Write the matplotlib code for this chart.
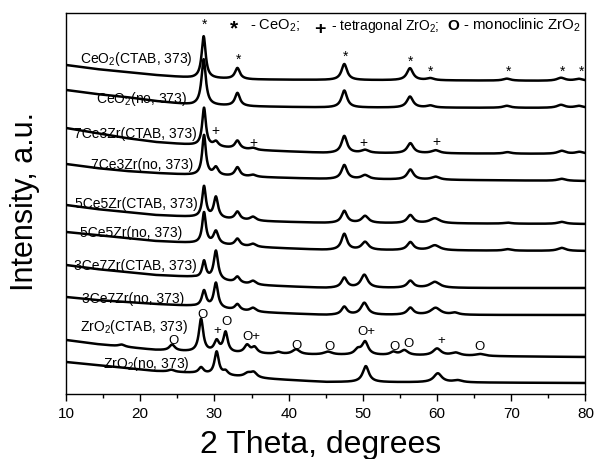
import numpy as np
import matplotlib
matplotlib.use('Agg')
import matplotlib.pyplot as plt

plt.rcParams['font.family'] = ['Liberation Sans', 'DejaVu Sans']
plt.rcParams['mathtext.fontset'] = 'custom'
plt.rcParams['mathtext.rm'] = 'Liberation Sans'
plt.rcParams['mathtext.it'] = 'Liberation Sans:italic'
plt.rcParams['mathtext.bf'] = 'Liberation Sans:bold'

# sample names, top to bottom
samples = ['CeO$_2$(CTAB, 373)', 'CeO$_2$(no, 373)',
           '7Ce3Zr(CTAB, 373)', '7Ce3Zr(no, 373)',
           '5Ce5Zr(CTAB, 373)', '5Ce5Zr(no, 373)',
           '3Ce7Zr(CTAB, 373)', '3Ce7Zr(no, 373)',
           'ZrO$_2$(CTAB, 373)', 'ZrO$_2$(no, 373)']

# background level (a.u., stacked) at these 2theta points
bg_x = [10, 14, 18, 22, 27, 35, 45, 80]
bg = [
    [329, 325, 322, 319, 316, 314.5, 314, 313],
    [304, 300, 297, 293, 289, 287.5, 286.5, 286],
    [266, 261, 256, 252, 249, 244, 241, 240],
    [230, 226, 223, 221, 219, 217, 215, 213],
    [189, 185, 182, 179, 177, 173, 171, 170],
    [162, 159, 156, 153, 151, 147, 144, 143],
    [129, 125, 122, 119, 117, 109, 106, 106],
    [97, 94, 92, 90, 88, 82, 79, 79],
    [54, 50, 47, 44, 42, 40, 39, 37],
    [32, 29, 26, 23, 21, 16, 12, 11],
]

# peaks: (2theta, height, fwhm)
peaks = [
    [(28.55, 42, 0.65), (33.1, 11, 0.8), (47.5, 16, 0.9), (56.35, 12, 1.0),
     (59.1, 2, 1.2), (69.4, 2, 1.2), (76.7, 3, 1.3), (79.1, 2, 1.3)],
    [(28.55, 46, 0.7), (33.1, 13, 0.8), (47.5, 17, 0.9), (56.35, 11, 1.0),
     (59.1, 2, 1.2), (69.4, 2, 1.2), (76.7, 3, 1.3), (79.1, 2, 1.3)],
    [(28.6, 38, 0.6), (30.2, 5, 0.8), (33.1, 8, 0.8), (35.2, 2, 1.0),
     (47.5, 17, 0.9), (50.3, 3, 1.2), (56.4, 10, 1.0), (59.8, 3, 1.3),
     (69.5, 1.5, 1.2), (76.8, 3, 1.3), (79.2, 2, 1.3)],
    [(28.6, 40, 0.6), (30.2, 8, 0.8), (33.1, 9, 0.8), (35.2, 2, 1.0),
     (47.5, 14, 0.9), (50.3, 4, 1.2), (56.4, 10, 1.0), (59.8, 3, 1.3),
     (76.8, 2, 1.3)],
    [(28.6, 31, 0.6), (30.2, 21, 0.7), (33.1, 8, 0.8), (35.2, 4, 1.0),
     (47.5, 12, 0.9), (50.3, 7, 1.1), (56.4, 8, 1.0), (59.7, 5, 1.6),
     (69.5, 1, 1.2), (76.8, 2, 1.3)],
    [(28.6, 31, 0.6), (30.2, 13, 0.8), (33.1, 7, 0.8), (35.2, 3, 1.0),
     (47.5, 16, 0.9), (50.3, 8, 1.1), (56.4, 8, 1.0), (59.7, 5, 1.6),
     (69.5, 1.5, 1.2), (76.8, 3, 1.3)],
    [(28.6, 17, 0.6), (30.2, 29, 0.7), (33.1, 6, 0.8), (35.2, 4, 1.0),
     (47.5, 10, 0.9), (50.2, 13, 1.1), (56.4, 7, 1.0), (59.7, 6, 1.6)],
    [(28.6, 16, 0.7), (30.2, 25, 0.7), (33.1, 6, 0.8), (35.2, 4, 1.0),
     (47.5, 8, 0.9), (50.2, 12, 1.1), (56.4, 7, 1.0), (59.8, 7, 1.6),
     (62.4, 2, 1.2)],
    [(17.5, 2, 1.0), (24.3, 6, 0.9), (28.2, 33, 0.7), (30.3, 11, 0.8),
     (31.5, 20, 0.7), (34.4, 8, 0.9), (35.4, 6, 0.9), (38.6, 2, 1.0),
     (41.0, 5, 1.2), (45.3, 3, 1.4), (49.3, 5, 1.0), (50.3, 13, 1.0),
     (54.1, 3, 1.0), (55.6, 5, 1.2), (60.0, 7, 1.3), (62.5, 3, 1.5),
     (65.8, 2, 1.5)],
    [(24.2, 2, 1.0), (28.2, 6, 0.8), (30.3, 23, 0.7), (31.5, 4, 0.8),
     (34.5, 4, 1.2), (35.3, 5, 1.0), (50.4, 16, 1.0), (60.1, 9, 1.3),
     (62.8, 2, 1.5)],
]

# sample label anchors (right end x, baseline y)
label_x = [27.1, 26.3, 27.65, 27.1, 27.8, 25.6, 27.65, 26.0, 26.4, 26.7]
label_y = [331, 291, 256, 225, 186, 157, 124, 91, 63, 26]

# phase marks
ceo2_marks = [(28.6, 369), (33.3, 334), (47.6, 337), (56.45, 332),
              (59.15, 322), (69.6, 322), (76.9, 322), (79.4, 322)]
tet_marks = [(30.08, 263), (35.24, 251), (50.07, 251), (59.87, 252)]
zro2_marks = [(24.46, 53, 'O'), (28.42, 79, 'O'), (30.39, 63, '+'),
              (31.65, 72, 'O'), (35.0, 57, 'O+'), (41.09, 48, 'O'),
              (45.5, 47, 'O'), (50.47, 62, 'O+'), (54.25, 47, 'O'),
              (56.14, 50, 'O'), (60.5, 53, '+'), (65.66, 47, 'O')]


def pattern(x, base, pk):
    y = np.interp(x, bg_x, base)
    for c, h, w in pk:
        y = y + h / (1 + ((x - c) / (w / 2)) ** 2)
    return y


tt = np.linspace(10, 80, 2801)

fig = plt.figure(figsize=(6, 4.59), dpi=100)
ax = fig.add_axes([0.11, 0.1416, 0.8658, 0.8301])

for i in range(len(samples)):
    ax.plot(tt, pattern(tt, bg[i], peaks[i]), color='black', lw=1.8)
    ax.text(label_x[i], label_y[i], samples[i], ha='right', va='baseline',
            fontsize=10)

for x, y in ceo2_marks:
    ax.text(x, y, '*', ha='center', va='center', fontsize=10)
for x, y in tet_marks:
    ax.text(x, y, '+', ha='center', va='center', fontsize=10)
for x, y, s in zro2_marks:
    ax.text(x, y, s, ha='center', va='center', fontsize=9.5)

# key
ax.text(32.64, 365, '*', ha='center', va='center', fontsize=15, fontweight='bold')
ax.text(34.8, 364, '- CeO$_2$;', ha='left', va='baseline', fontsize=10.5)
ax.text(44.2, 364, '+', ha='center', va='center', fontsize=14, fontweight='bold')
ax.text(45.7, 364, '- tetragonal ZrO$_2$;', ha='left', va='baseline', fontsize=10)
ax.text(62.2, 364, 'O', ha='center', va='baseline', fontsize=11, fontweight='bold')
ax.text(63.5, 364, '- monoclinic ZrO$_2$', ha='left', va='baseline', fontsize=10.8)

ax.set_xlim(10, 80)
ax.set_ylim(0, 381)
ax.set_xticks(np.arange(10, 81, 10))
ax.set_xticks(np.arange(15, 80, 10), minor=True)
ax.set_yticks([])
ax.tick_params(axis='x', which='major', direction='out', length=5, width=1,
               labelsize=11, pad=4)
ax.tick_params(axis='x', which='minor', direction='out', length=3, width=1)
for s in ax.spines.values():
    s.set_linewidth(1)

fig.text(321 / 600, 0.012, '2 Theta, degrees', ha='center', va='baseline',
         fontsize=23)
fig.text(25 / 600, 0.56, 'Intensity, a.u.', ha='center', va='center',
         rotation=90, fontsize=22)

fig.savefig('out.png', dpi=100)
